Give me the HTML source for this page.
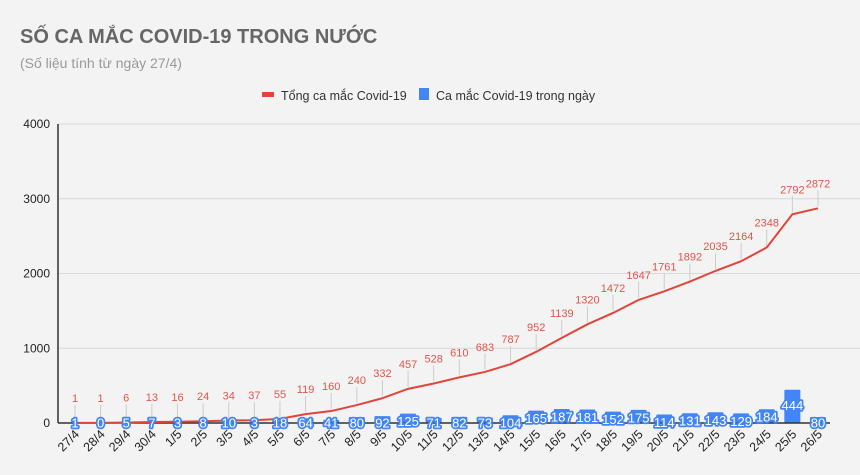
<!DOCTYPE html>
<html><head><meta charset="utf-8"><style>
body{margin:0;background:#f3f3f3;}
svg{display:block;font-family:"Liberation Sans",Arial,sans-serif;}
</style></head><body>
<svg id="s" width="860" height="475" xmlns="http://www.w3.org/2000/svg">
<rect width="860" height="475" fill="#f3f3f3"/>
<text x="20" y="43" font-size="20" font-weight="bold" fill="#666">SỐ CA MẮC COVID-19 TRONG NƯỚC</text>
<text x="20" y="68" font-size="14" fill="#999">(Số liệu tính từ ngày 27/4)</text>
<rect x="262" y="92" width="12" height="5" fill="#e0453a"/>
<text x="281" y="100" font-size="12.5" fill="#333">Tổng ca mắc Covid-19</text>
<rect x="419" y="88" width="10" height="12" fill="#4285f4"/>
<text x="436" y="100" font-size="12.5" fill="#333">Ca mắc Covid-19 trong ngày</text>
<g id="g"></g>
</svg>
<script>
(function(){
var T=[1,1,6,13,16,24,34,37,55,119,160,240,332,457,528,610,683,787,952,1139,1320,1472,1647,1761,1892,2035,2164,2348,2792,2872];
var D=[1,0,5,7,3,8,10,3,18,64,41,80,92,125,71,82,73,104,165,187,181,152,175,114,131,143,129,184,444,80];
var L=["27/4","28/4","29/4","30/4"];for(var i=1;i<=26;i++)L.push(i+"/5");
var y0=423,k=74.75/1000,x0=75,dx=25.62,h="";
function Y(v){return y0-v*k}
for(var j=1;j<=4;j++){var yy=Y(j*1000);h+='<line x1="58" x2="860" y1="'+yy+'" y2="'+yy+'" stroke="#d8d8d8"/>';h+='<text x="50" y="'+(yy+4)+'" font-size="12" text-anchor="end" fill="#222">'+(j*1000)+'</text>';}
h+='<text x="50" y="427" font-size="12" text-anchor="end" fill="#222">0</text>';
for(var i=0;i<30;i++){var x=x0+i*dx,by=Y(D[i]);var bh=Math.max(y0-by,0);
 h+='<rect x="'+(x-8)+'" y="'+by+'" width="16" height="'+bh+'" fill="#4285f4" rx="1"/>';}
h+='<line x1="58" x2="830" y1="423" y2="423" stroke="#333" stroke-width="1.5"/><line x1="58" x2="58" y1="124" y2="423" stroke="#333" stroke-width="1.5"/>';
var p="";for(var i=0;i<30;i++){var x=x0+i*dx;p+=(i?"L":"M")+x+","+Y(T[i]);
 var ly=Y(T[i])-21;h+='<line x1="'+x+'" x2="'+x+'" y1="'+(ly+3)+'" y2="'+(Y(T[i])-2)+'" stroke="#ccc"/>';
 h+='<text x="'+x+'" y="'+ly+'" font-size="11" text-anchor="middle" fill="#e0554a">'+T[i]+'</text>';}
h+='<path d="'+p+'" fill="none" stroke="#e0453a" stroke-width="2"/>';
for(var i=0;i<30;i++){var x=x0+i*dx,bt=Y(D[i]);var c=D[i]>300?(bt+y0)/2-1:Math.min(423,bt+8);
 h+='<text x="'+x+'" y="'+(c+4.5)+'" font-size="13" text-anchor="middle" fill="#fff" stroke="#4285f4" stroke-width="3.5" stroke-linejoin="round" paint-order="stroke">'+D[i]+'</text>';
 h+='<text transform="translate('+(x+5)+',435) rotate(-45)" font-size="12.5" text-anchor="end" fill="#222">'+L[i]+'</text>';}
document.getElementById("g").innerHTML=h;
})();
</script>
</body></html>
